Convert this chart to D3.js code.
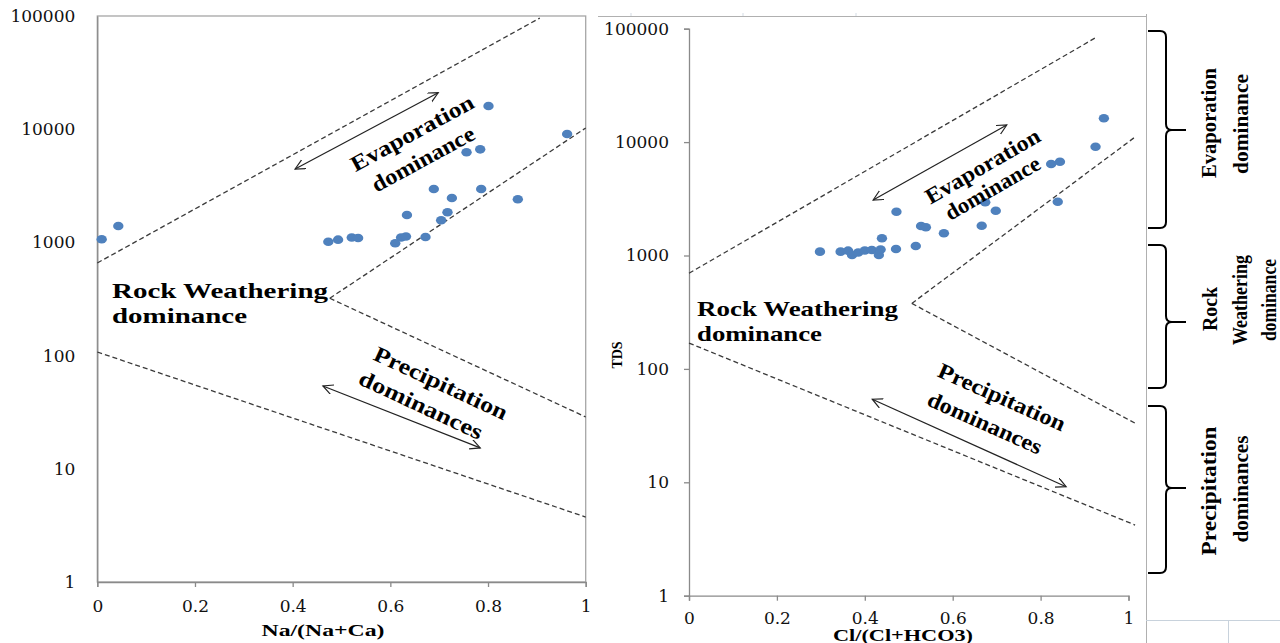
<!DOCTYPE html>
<html><head><meta charset="utf-8">
<script src="https://cdn.jsdelivr.net/npm/d3@7"></script>
<style>body{margin:0;background:#fff}svg{display:block}</style>
</head><body>
<svg id="c" width="1280" height="643"></svg>
<script>
// ---------- data ----------
const yTickValues = [1, 10, 100, 1000, 10000, 100000];
const xTickValues = [0, 0.2, 0.4, 0.6, 0.8, 1];
const xTickLabels = ["0", "0.2", "0.4", "0.6", "0.8", "1"];

// left panel: Na/(Na+Ca) vs TDS
const naRatio = [0.009, 0.043, 0.473, 0.493, 0.521, 0.534, 0.610, 0.622, 0.632, 0.634, 0.672,
                 0.704, 0.717, 0.726, 0.689, 0.786, 0.861, 0.756, 0.784, 0.801, 0.962];
const tdsLeft = [1065, 1396, 1014, 1057, 1105, 1094, 982, 1105, 1128, 1746, 1117,
                 1567, 1845, 2467, 2963, 2963, 2403, 6252, 6640, 16030, 9070];

// right panel: Cl/(Cl+HCO3) vs TDS
const clRatio = [0.298, 0.345, 0.362, 0.371, 0.385, 0.400, 0.416, 0.432, 0.436, 0.439, 0.472, 0.471,
                 0.516, 0.528, 0.539, 0.580, 0.666, 0.674, 0.698, 0.824, 0.844, 0.839, 0.925, 0.944];
const tdsRight = [1081, 1081, 1103, 1010, 1063, 1107, 1119, 1010, 1130, 1418, 2433, 1141,
                  1213, 1821, 1774, 1570, 1832, 2945, 2484, 6412, 6719, 2980, 9106, 16210];

// Gibbs boundary lines, [ratio, TDS] end points
const leftBoundaries = [
  [[0, 658], [0.906, 95900]],
  [[0.476, 321], [1, 10250]],
  [[0.476, 321], [1, 28.7]],
  [[0, 107.6], [1, 3.75]]
];
const rightBoundaries = [
  [[0, 697], [0.928, 84500]],
  [[0.507, 378], [1.015, 11090]],
  [[0.507, 378], [1.015, 33.2]],
  [[0, 169], [1.015, 4.2]]
];
const leftArrows = [
  [[0.405, 4450], [0.698, 21000]],
  [[0.462, 53.9], [0.784, 15.3]]
];
const rightArrows = [
  [[0.419, 3086], [0.723, 14150]],
  [[0.417, 54], [0.858, 9.15]]
];

// ---------- drawing ----------
const svg = d3.select("#c");
const defs = svg.append("defs");
defs.append("marker").attr("id", "ah")
  .attr("markerUnits", "userSpaceOnUse")
  .attr("markerWidth", 14).attr("markerHeight", 14)
  .attr("refX", 10).attr("refY", 5).attr("orient", "auto-start-reverse")
  .append("path").attr("d", "M0,0 L10,5 L0,10")
  .attr("fill", "none").attr("stroke", "#222").attr("stroke-width", 1.2);

const tickFont = "'DejaVu Serif', serif";
const boldFont = "'Liberation Serif', 'Times New Roman', serif";

// background spreadsheet lines
const bg = svg.append("g").attr("stroke", "#b0b0b0").attr("fill", "none");
bg.append("line").attr("x1", 598).attr("x2", 1146).attr("y1", 16.5).attr("y2", 16.5);
[631, 743, 856].forEach(x => bg.append("line").attr("x1", x).attr("x2", x).attr("y1", 13).attr("y2", 16).attr("stroke", "#d3dbe4"));
bg.append("line").attr("x1", 1146.5).attr("x2", 1146.5).attr("y1", 14).attr("y2", 643);
bg.append("line").attr("x1", 1146).attr("x2", 1280).attr("y1", 620.5).attr("y2", 620.5).attr("stroke", "#c8d2dc");
bg.append("line").attr("x1", 1228.5).attr("x2", 1228.5).attr("y1", 620).attr("y2", 643).attr("stroke", "#c8d2dc");

function panel(cfg) {
  const x = d3.scaleLinear().domain([0, 1]).range(cfg.xr);
  const y = d3.scaleLog().domain([1, 100000]).range(cfg.yr);
  const g = svg.append("g");

  if (cfg.box) {
    g.append("rect").attr("x", cfg.xr[0]).attr("y", cfg.yr[1])
      .attr("width", cfg.xr[1] - cfg.xr[0]).attr("height", cfg.yr[0] - cfg.yr[1])
      .attr("fill", "none").attr("stroke", "#a6a6a6").attr("stroke-width", 1.3);
  }

  const ya = d3.axisLeft(y).tickValues(yTickValues).tickFormat(d3.format("d"))
    .tickSize(cfg.yTick).tickPadding(cfg.yPad);
  const yg = g.append("g").attr("transform", `translate(${cfg.xr[0]},0)`).call(ya);
  const xa = d3.axisBottom(x).tickValues(xTickValues).tickFormat((d, i) => xTickLabels[i])
    .tickSize(5).tickPadding(cfg.xPad);
  const xg = g.append("g").attr("transform", `translate(0,${cfg.yr[0]})`).call(xa);
  [yg, xg].forEach(a => {
    a.select(".domain").attr("stroke", "#8a8a8a").attr("stroke-width", 1.3);
    a.selectAll(".tick line").attr("stroke", "#8a8a8a").attr("stroke-width", 1.3);
    a.selectAll(".tick text").attr("font-family", tickFont).attr("font-size", 17).attr("fill", "#111");
  });

  // boundaries
  const line = d3.line().x(d => x(d[0])).y(d => y(d[1]));
  g.selectAll(".bd").data(cfg.bounds).join("path")
    .attr("d", line).attr("fill", "none").attr("stroke", "#3a3a3a")
    .attr("stroke-width", 1.3).attr("stroke-dasharray", "5,3");
  g.selectAll(".ar").data(cfg.arrows).join("path")
    .attr("d", line).attr("fill", "none").attr("stroke", "#222").attr("stroke-width", 1.2)
    .attr("marker-start", "url(#ah)").attr("marker-end", "url(#ah)");

  // points
  g.selectAll(".pt").data(cfg.xs.map((v, i) => [v, cfg.ys[i]])).join("ellipse")
    .attr("cx", d => x(d[0])).attr("cy", d => y(d[1]))
    .attr("rx", 5.2).attr("ry", 4.3).attr("fill", "#4f81bd");

  // annotation text
  cfg.labels.forEach(l => {
    const t = g.append("text").attr("font-family", boldFont).attr("font-weight", "bold")
      .attr("font-size", l.fs || 21).attr("fill", "#000")
      .attr("textLength", l.len).attr("lengthAdjust", "spacingAndGlyphs");
    if (l.rot !== undefined) {
      t.attr("text-anchor", "middle").attr("dominant-baseline", "central")
        .attr("transform", `translate(${l.cx},${l.cy}) rotate(${l.rot})`);
    } else {
      t.attr("x", l.x).attr("y", l.y);
    }
    t.text(l.t);
  });
  return { x, y, g };
}

panel({
  xr: [97.3, 585.7], yr: [582, 16], box: true, yTick: 0, yPad: 22, xPad: 13,
  xs: naRatio, ys: tdsLeft, bounds: leftBoundaries, arrows: leftArrows,
  labels: [
    { t: "Evaporation", cx: 412, cy: 133, rot: -28.5, len: 137, fs: 22 },
    { t: "dominance", cx: 423, cy: 159, rot: -28.5, len: 114, fs: 22 },
    { t: "Precipitation", cx: 441, cy: 383, rot: 25, len: 145, fs: 22 },
    { t: "dominances", cx: 421, cy: 405, rot: 25, len: 134, fs: 22 },
    { t: "Rock Weathering", x: 112, y: 298, len: 216 },
    { t: "dominance", x: 112, y: 323, len: 135 }
  ]
});
panel({
  xr: [689, 1128.5], yr: [595.7, 28.7], box: false, yTick: 5, yPad: 15, xPad: 11,
  xs: clRatio, ys: tdsRight, bounds: rightBoundaries, arrows: rightArrows,
  labels: [
    { t: "Evaporation", cx: 982.5, cy: 166, rot: -30, len: 129, fs: 22 },
    { t: "dominance", cx: 992.5, cy: 188, rot: -30, len: 106, fs: 22 },
    { t: "Precipitation", cx: 1002, cy: 397, rot: 24, len: 137, fs: 22 },
    { t: "dominances", cx: 985, cy: 423, rot: 24, len: 123, fs: 22 },
    { t: "Rock Weathering", x: 697, y: 316, len: 201 },
    { t: "dominance", x: 697, y: 341, len: 125 }
  ]
});

// axis titles
svg.append("text").attr("x", 323).attr("y", 636).attr("text-anchor", "middle")
  .attr("font-family", boldFont).attr("font-weight", "bold").attr("font-size", 17)
  .attr("textLength", 123).attr("lengthAdjust", "spacingAndGlyphs").text("Na/(Na+Ca)");
svg.append("text").attr("x", 903).attr("y", 641).attr("text-anchor", "middle")
  .attr("font-family", boldFont).attr("font-weight", "bold").attr("font-size", 16)
  .attr("textLength", 140).attr("lengthAdjust", "spacingAndGlyphs").text("Cl/(Cl+HCO3)");
svg.append("text").attr("transform", "translate(617,355) rotate(-90)")
  .attr("text-anchor", "middle").attr("dominant-baseline", "central")
  .attr("font-family", boldFont).attr("font-weight", "bold").attr("font-size", 14).text("TDS");

// braces and side labels
const braces = [[31, 130, 228], [245, 322, 388], [406, 488, 573]];
const bx0 = 1148, bs = 1166, bt = 1186;
svg.selectAll(".brace").data(braces).join("path")
  .attr("d", d => `M${bx0},${d[0]} L${bs - 6},${d[0]} Q${bs},${d[0]} ${bs},${d[0] + 6} L${bs},${d[1] - 6} Q${bs},${d[1]} ${bs + 6},${d[1]} L${bt},${d[1]} M${bs + 6},${d[1]} Q${bs},${d[1]} ${bs},${d[1] + 6} L${bs},${d[2] - 6} Q${bs},${d[2]} ${bs - 6},${d[2]} L${bx0},${d[2]}`)
  .attr("fill", "none").attr("stroke", "#000").attr("stroke-width", 2);

const side = [
  { t: "Evaporation", x: 1208, y: 123, len: 110 },
  { t: "dominance", x: 1240, y: 124, len: 100 },
  { t: "Rock", x: 1209, y: 309, len: 44 },
  { t: "Weathering", x: 1239, y: 300, len: 90 },
  { t: "dominance", x: 1268, y: 300, len: 82 },
  { t: "Precipitation", x: 1208, y: 491, len: 129 },
  { t: "dominances", x: 1240, y: 489, len: 107 }
];
side.forEach(s => svg.append("text")
  .attr("transform", `translate(${s.x},${s.y}) rotate(-90)`)
  .attr("text-anchor", "middle").attr("dominant-baseline", "central")
  .attr("font-family", boldFont).attr("font-weight", "bold").attr("font-size", 22)
  .attr("textLength", s.len).attr("lengthAdjust", "spacingAndGlyphs").text(s.t));
</script>
</body></html>
